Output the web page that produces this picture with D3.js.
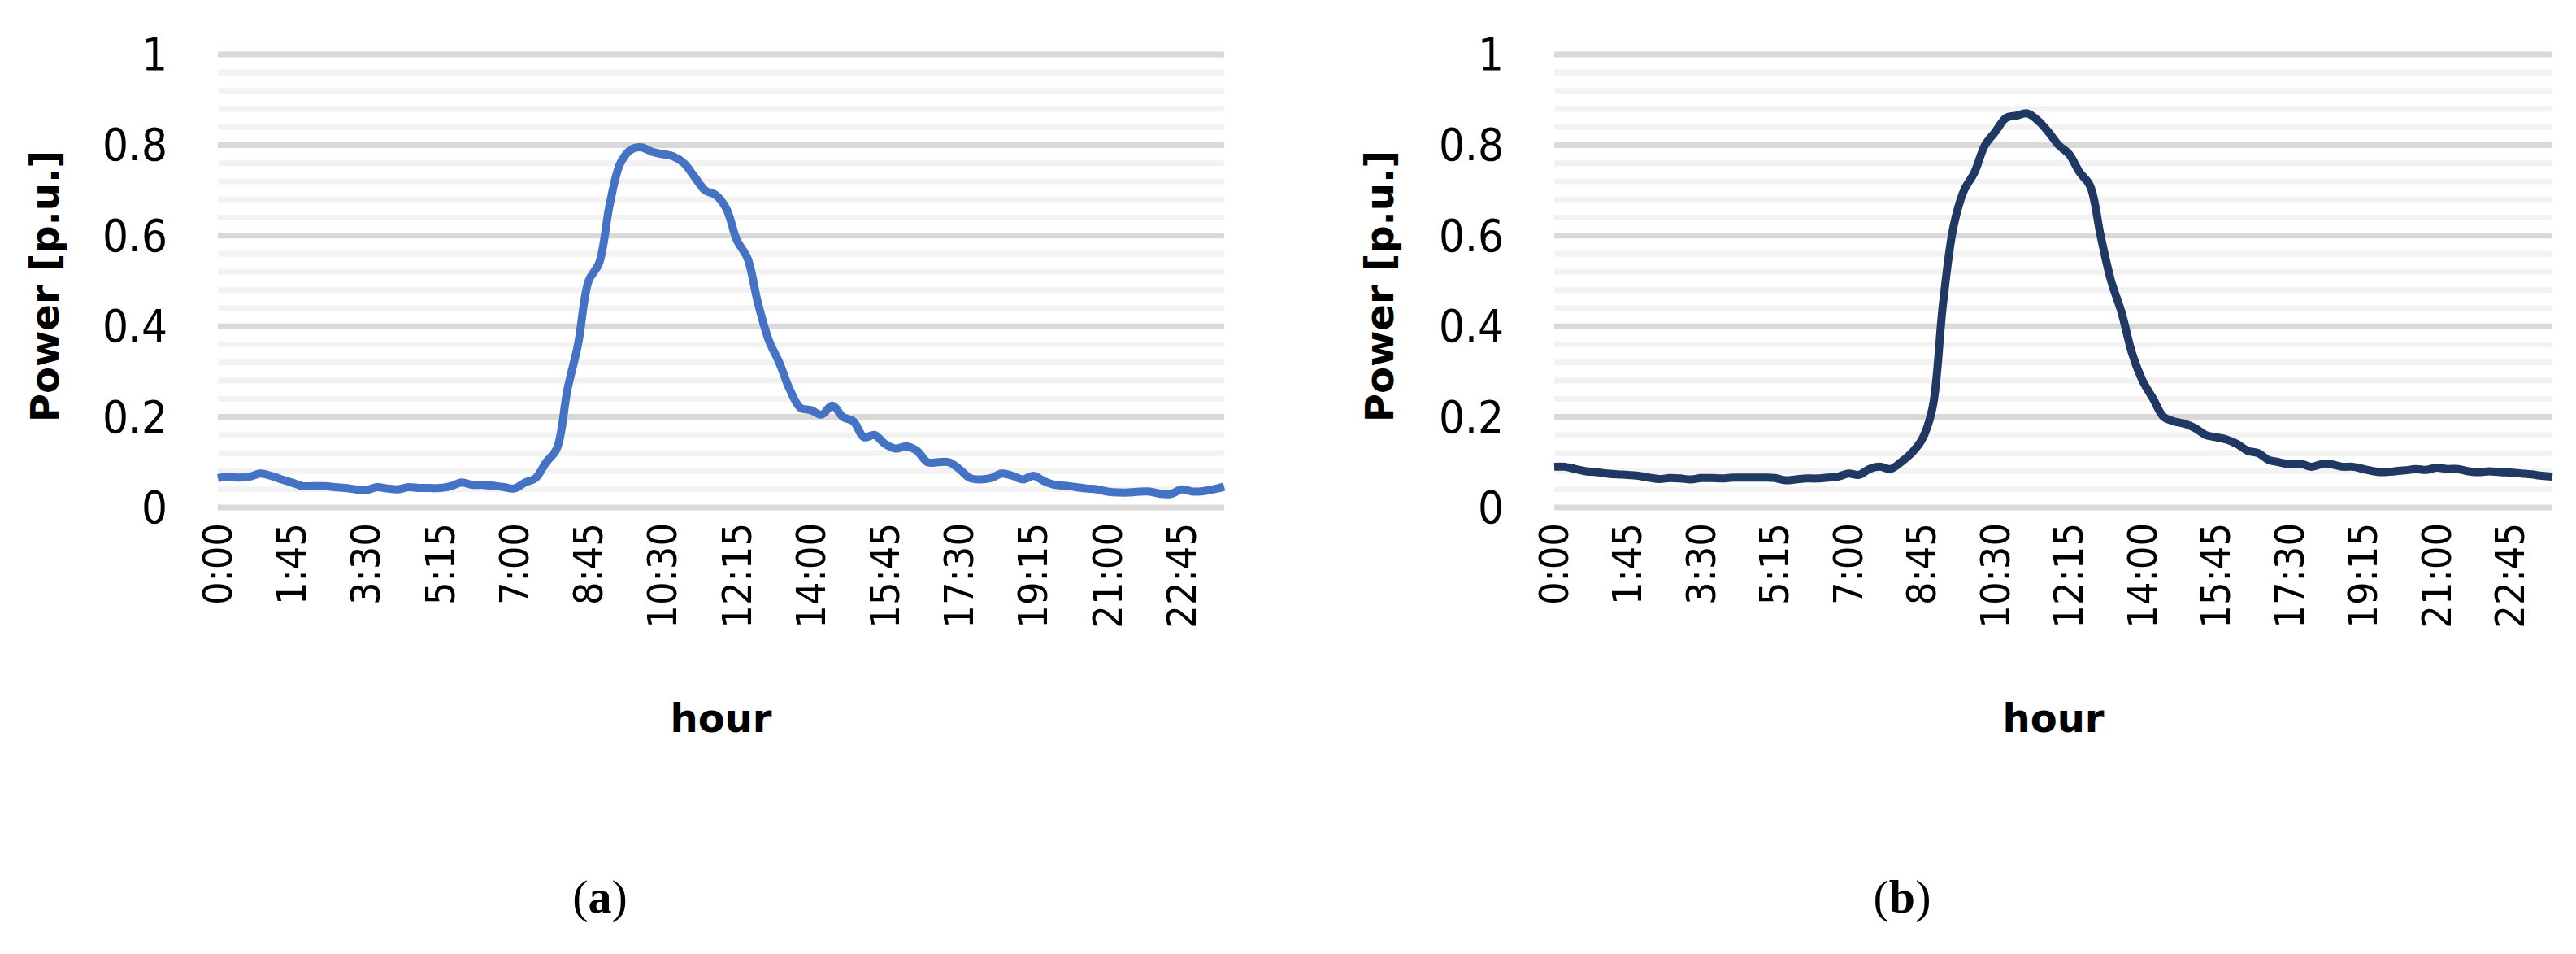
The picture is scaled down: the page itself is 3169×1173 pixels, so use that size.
<!DOCTYPE html>
<html>
<head>
<meta charset="UTF-8">
<script src="https://d3js.org/d3.v7.min.js"></script>
<style>
  body { margin: 0; background: #fff; }
  .tick-y, .tick-x { font-family: 'Liberation Sans Narrow', 'DejaVu Sans Condensed', sans-serif; fill: #000; }
  .title { font-family: 'DejaVu Sans', sans-serif; font-weight: bold; fill: #000; }
  .cap { font-family: 'Liberation Serif', 'DejaVu Serif', serif; fill: #000; }
</style>
</head>
<body>
<svg id="chart" width="3169" height="1173"></svg>
<script>
// 96 quarter-hour slots
const hours = d3.range(96).map(i => `${Math.floor(i / 4)}:${String((i % 4) * 15).padStart(2, "0")}`);
const shownLabels = hours.filter((h, i) => i % 7 === 0);
const yTicks = [0, 0.2, 0.4, 0.6, 0.8, 1];
const yMinor = d3.range(0, 1.001, 0.04);

const seriesA = [
  0.065, 0.068, 0.066, 0.068, 0.075, 0.070, 0.062, 0.055, 0.047, 0.047, 0.047, 0.045,
  0.043, 0.040, 0.038, 0.045, 0.042, 0.040, 0.045, 0.043, 0.043, 0.043, 0.047, 0.055,
  0.050, 0.050, 0.048, 0.045, 0.042, 0.055, 0.065,
  0.100, 0.130, 0.260, 0.360, 0.500, 0.540, 0.670, 0.760, 0.790, 0.795, 0.785, 0.780,
  0.775, 0.760, 0.730, 0.700, 0.690, 0.660, 0.590, 0.550, 0.450, 0.370, 0.320, 0.260,
  0.220, 0.215, 0.205, 0.225, 0.200, 0.190, 0.155, 0.160, 0.140, 0.130, 0.135, 0.125,
  0.100, 0.100, 0.100, 0.085, 0.065, 0.062, 0.065, 0.075, 0.070, 0.062, 0.070, 0.058,
  0.050, 0.048, 0.045, 0.042, 0.040, 0.035, 0.033, 0.033, 0.035, 0.035, 0.030, 0.030,
  0.040, 0.035, 0.036, 0.040, 0.046
];
const seriesB = [
  0.090, 0.090, 0.085, 0.080, 0.078, 0.075, 0.073, 0.072, 0.070, 0.066, 0.063, 0.065,
  0.064, 0.062, 0.065, 0.065, 0.064, 0.066, 0.066, 0.066, 0.066, 0.065, 0.060, 0.062,
  0.064, 0.064, 0.066, 0.068, 0.075, 0.072, 0.085, 0.090, 0.085, 0.100, 0.120, 0.150,
  0.220, 0.450, 0.620, 0.700, 0.740, 0.800, 0.830, 0.860, 0.865, 0.870, 0.855, 0.830,
  0.800, 0.780, 0.740, 0.710, 0.600, 0.500, 0.430, 0.340, 0.280, 0.240, 0.200, 0.190,
  0.185, 0.175, 0.160, 0.155, 0.150, 0.140, 0.125, 0.120, 0.105, 0.100, 0.095, 0.097,
  0.090, 0.095, 0.095, 0.090, 0.090, 0.085, 0.080, 0.078, 0.080, 0.082, 0.085, 0.083,
  0.088, 0.085, 0.085, 0.080, 0.078, 0.080, 0.078, 0.077, 0.075, 0.073, 0.070, 0.068
];

const svg = d3.select("#chart");

function drawPanel(cfg) {
  const x = d3.scalePoint().domain(hours).range([cfg.x0, cfg.x1]);
  const y = d3.scaleLinear().domain([0, 1]).range([624, 67]);
  const g = svg.append("g");

  // minor + major gridlines
  g.selectAll(".minor").data(yMinor).join("line")
    .attr("x1", cfg.x0).attr("x2", cfg.x1)
    .attr("y1", d => y(d)).attr("y2", d => y(d))
    .attr("stroke", d => yTicks.some(t => Math.abs(t - d) < 1e-6) ? "#d9d9d9" : "#f2f2f2")
    .attr("stroke-width", 7);

  g.selectAll(".tick-y").data(yTicks).join("text")
    .attr("class", "tick-y")
    .attr("x", cfg.x0 - 62).attr("y", d => y(d) + 19)
    .attr("text-anchor", "end").attr("font-size", 56)
    .text(d => d);

  g.selectAll(".tick-x").data(shownLabels).join("text")
    .attr("class", "tick-x")
    .attr("transform", d => `translate(${x(d) + 17}, 643) rotate(-90)`)
    .attr("text-anchor", "end").attr("font-size", 50)
    .text(d => d);

  g.append("path")
    .datum(cfg.values)
    .attr("fill", "none")
    .attr("stroke", cfg.color)
    .attr("stroke-width", 10)
    .attr("stroke-linejoin", "round")
    .attr("d", d3.line().x((d, i) => x(hours[i])).y(d => y(d)).curve(d3.curveCatmullRom));

  g.append("text").attr("class", "title")
    .attr("transform", `translate(${cfg.titleX}, 352) rotate(-90)`)
    .attr("text-anchor", "middle").attr("font-size", 48)
    .text("Power [p.u.]");

  g.append("text").attr("class", "title")
    .attr("x", (cfg.x0 + cfg.x1) / 2).attr("y", 900)
    .attr("text-anchor", "middle").attr("font-size", 48)
    .text("hour");

  const cap = g.append("text").attr("class", "cap")
    .attr("x", cfg.capX).attr("y", 1122)
    .attr("text-anchor", "middle").attr("font-size", 58);
  cap.append("tspan").text("(");
  cap.append("tspan").attr("font-weight", "bold").text(cfg.cap);
  cap.append("tspan").text(")");
}

drawPanel({ x0: 268, x1: 1506, values: seriesA, color: "#4472c4", titleX: 72, capX: 738, cap: "a" });
drawPanel({ x0: 1912, x1: 3140, values: seriesB, color: "#203864", titleX: 1714, capX: 2340, cap: "b" });
</script>
</body>
</html>
